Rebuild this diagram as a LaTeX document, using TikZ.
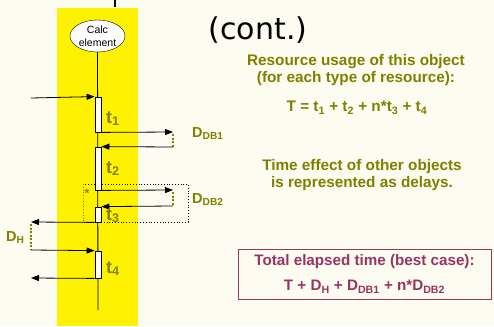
\documentclass[tikz,border=0pt]{standalone}
\usepackage{fontspec}
\setmainfont{Liberation Sans}
\newfontfamily\titlefont{DejaVu Sans}
\usetikzlibrary{arrows.meta,shapes.geometric}
\definecolor{olivetxt}{RGB}{128,128,0}
\definecolor{boxred}{RGB}{153,51,102}
\definecolor{paper}{RGB}{252,252,240}

\begin{document}
\begin{tikzpicture}[x=1pt,y=-1pt,
  actbox/.style={draw, fill=white, line width=0.8pt, minimum width=6pt, inner sep=0pt},
  msg/.style={-{Triangle[length=8pt,width=6pt]}, line width=0.8pt},
  delay/.style={olivetxt, line width=2pt, dash pattern=on 2pt off 1.5pt},
  tlbl/.style={olivetxt, font=\bfseries\fontsize{18}{20}\selectfont, anchor=base west, inner sep=0pt},
  dlbl/.style={olivetxt, font=\bfseries\fontsize{14.5}{16}\selectfont, anchor=base west, inner sep=0pt},
  note/.style={olivetxt, font=\bfseries\fontsize{15.3}{17}\selectfont, align=center}]
% background and yellow band
\fill[paper] (0,0) rectangle (494,326);
\useasboundingbox (0,0) rectangle (494,326);
\fill[yellow] (57,8) rectangle (138,326);
\draw[line width=2pt] (115,0) -- (115,7);
\node[font=\titlefont\fontsize{30}{34}\selectfont] (title) at (258,30) {(cont.)};

% object and lifeline
\node[draw, fill=white, ellipse, minimum width=55pt, minimum height=32pt, inner sep=0pt,
  align=center, font=\fontsize{10.5}{12.5}\selectfont] (calc) at (97.5,36) {Calc\\element};
\coordinate (lifeend) at (98,310);
\draw[line width=0.8pt] (calc) -- (lifeend);

% loop frame
\draw[dotted, line width=0.8pt] (83,184) rectangle (188,222);
\draw[olivetxt, dotted, line width=0.8pt] (83,184) -- (83,222);
\node[olivetxt, font=\bfseries\fontsize{12}{12}\selectfont, inner sep=0pt] (star) at (87,193) {*};

% activations
\node[actbox, minimum height=35pt] (b1) at (98,114.5) {};
\node[actbox, minimum height=43pt] (b2) at (98,168.5) {};
\node[actbox, minimum height=15pt] (b3) at (98,214.5) {};
\node[actbox, minimum height=27pt] (b4) at (98,264.5) {};

% messages
\coordinate (in1) at (31,98);
\coordinate (db1a) at (173,132);
\coordinate (db1b) at (173,147);
\coordinate (db2a) at (173,190);
\coordinate (db2b) at (173,206);
\coordinate (dha) at (31,222);
\coordinate (dhb) at (31,250);
\coordinate (out4) at (31,278);
\draw[msg] (in1) -- (b1.north west);
\draw[msg] (b1.south east) -- (db1a);
\draw[delay, shorten <=2pt] (db1a) -- (db1b);
\draw[msg] (db1b) -- (b2.north east);
\draw[msg] (b2.south east) -- (db2a);
\draw[delay, shorten <=2pt] (db2a) -- (db2b);
\draw[msg] (db2b) -- (b3.north east);
\draw[msg] (b3.south west) -- (dha);
\draw[delay, shorten <=2pt] (dha) -- (dhb);
\draw[msg] (dhb) -- (b4.north west);
\draw[msg] (b4.south west) -- (out4);

% labels
\node[tlbl] (t1) at (106,123) {t\textsubscript{1}};
\node[tlbl] (t2) at (106,173) {t\textsubscript{2}};
\node[tlbl] (t3) at (106,220) {t\textsubscript{3}};
\node[tlbl] (t4) at (106,273) {t\textsubscript{4}};
\node[dlbl] (ddb1) at (192,137) {D\textsubscript{DB1}};
\node[dlbl] (ddb2) at (192,203) {D\textsubscript{DB2}};
\node[dlbl] (dh) at (6,241) {D\textsubscript{H}};

% right hand text
\node[note] (usage) at (356,70) {Resource usage of this object\\(for each type of resource):};
\node[note] (formula) at (357,108) {T = t\textsubscript{1} + t\textsubscript{2} + n*t\textsubscript{3} + t\textsubscript{4}};
\node[note] (effect) at (362,175) {Time effect of other objects\\is represented as delays.};
\node[draw=boxred, text=boxred, line width=0.8pt, minimum width=253pt, minimum height=50pt,
  align=center, font=\bfseries\fontsize{15.2}{17}\selectfont] (total) at (364.5,274)
  {Total elapsed time (best case):\\[8pt]T + D\textsubscript{H} + D\textsubscript{DB1} + n*D\textsubscript{DB2}};
\end{tikzpicture}
\end{document}
